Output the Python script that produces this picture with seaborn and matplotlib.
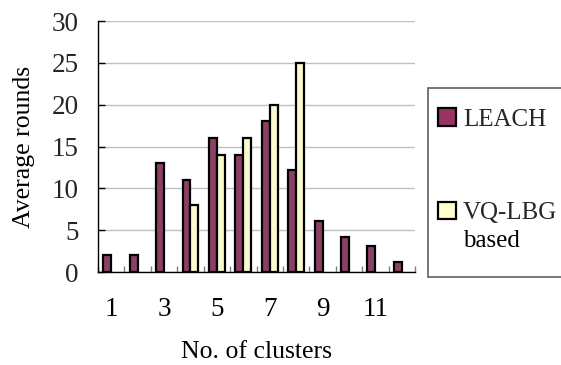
import matplotlib
matplotlib.use("Agg")
import matplotlib.pyplot as plt
import seaborn as sns
import pandas as pd
import numpy as np
from matplotlib.patches import Rectangle, Patch
from matplotlib.ticker import FixedLocator

clusters = [str(i) for i in range(1, 13)]
leach = [2, 2, 13, 11, 16, 14, 18, 12.2, 6.1, 4.2, 3.1, 1.2]
vq_lbg = [np.nan, np.nan, np.nan, 8, 14, 16, 20, 25, np.nan, np.nan, np.nan, np.nan]
series_names = ["LEACH", "VQ-LBG based"]
legend_lines = ["LEACH", "VQ-LBG", "based"]
colors = ["#993366", "#FFFFCC"]

df = pd.DataFrame({
    "cluster": clusters * 2,
    "value": leach + vq_lbg,
    "series": [series_names[0]] * 12 + [series_names[1]] * 12,
})

sns.set_theme(style="white")
plt.rcParams["font.family"] = ["Liberation Serif", "DejaVu Serif"]
FS = 18.5
LFS = 18
TFS = 19.5

fig = plt.figure(figsize=(5.61, 3.65), dpi=100)
ax = fig.add_axes([98 / 561, 1 - 272 / 365, (415 - 98) / 561, (272 - 21) / 365])

sns.barplot(data=df, x="cluster", y="value", hue="series", order=clusters,
            hue_order=series_names, palette=colors, width=0.6,
            edgecolor="black", linewidth=1.6, ax=ax, legend=False)

ax.set_xlim(-0.5, 11.5)
ax.set_ylim(0, 30)
ax.set_yticks(range(0, 31, 5))
ax.yaxis.grid(True, color="#c0c0c0", linewidth=1)
ax.set_axisbelow(True)
for s in ["top", "right"]:
    ax.spines[s].set_visible(False)
ax.spines["left"].set_color("black")
ax.spines["bottom"].set_color("black")
ax.spines["left"].set_linewidth(1)
ax.spines["bottom"].set_linewidth(1)

ax.set_xticks(range(0, 12, 2))
ax.set_xticklabels([clusters[i] for i in range(0, 12, 2)])
ax.xaxis.set_minor_locator(FixedLocator(np.arange(-0.5, 12, 1)))
ax.tick_params(axis="x", which="major", length=0, pad=18, labelsize=TFS, colors="black")
ax.tick_params(axis="x", which="minor", direction="in", length=4, width=1, color="#808080", bottom=True)
ax.tick_params(axis="y", direction="in", length=5, width=1, color="black", pad=14, labelsize=TFS, left=True)

ax.set_xlabel("No. of clusters", fontsize=FS, labelpad=14, color="black")
ax.set_ylabel("Average rounds", fontsize=FS, labelpad=12, color="black")

# legend frame
fig.patches.append(Rectangle((428 / 561, 1 - 277 / 365), 0.3, (277 - 88) / 365,
                             transform=fig.transFigure, facecolor="white",
                             edgecolor="#606060", linewidth=1.2, zorder=0))
handles = [Patch(facecolor=c, edgecolor="black", linewidth=1.6) for c in colors]
leg = fig.legend(handles, legend_lines[:2], loc="upper left",
                 bbox_to_anchor=(438 / 561, 1 - 108 / 365), frameon=False,
                 fontsize=LFS, handlelength=0.7, handleheight=0.7,
                 handletextpad=0.3, labelspacing=2.85, borderpad=0,
                 borderaxespad=0)
fig.text(463 / 561, 1 - 241 / 365, legend_lines[2], fontsize=LFS,
         ha="left", va="center", color="black")

fig.savefig("out.png", dpi=100)
